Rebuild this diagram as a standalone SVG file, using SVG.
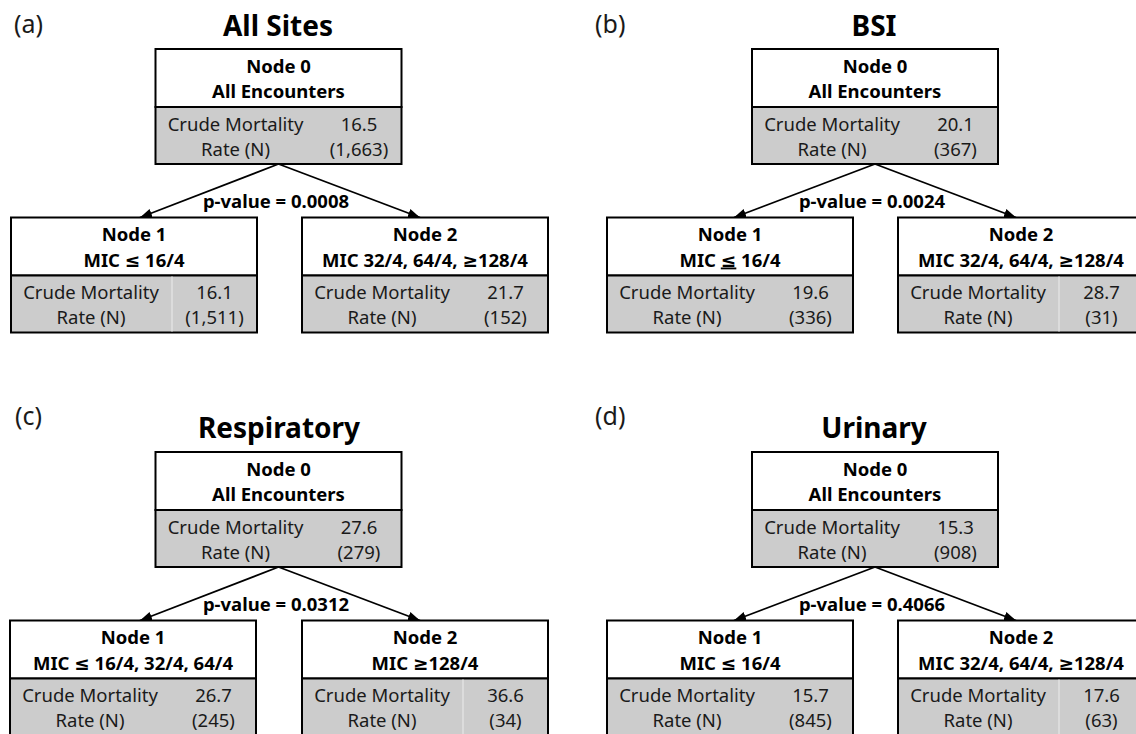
<svg xmlns="http://www.w3.org/2000/svg" width="1136" height="734" viewBox="0 0 1136 734">
<defs>
<style>
.hd{font-family:"Noto Sans","DejaVu Sans",sans-serif;font-weight:bold;font-size:18.5px;text-anchor:middle;fill:#000}
.dt{font-family:"Noto Sans","DejaVu Sans",sans-serif;font-size:18.5px;text-anchor:middle;fill:#1a1a1a}
.ttl{font-family:"Noto Sans","DejaVu Sans",sans-serif;font-weight:bold;font-size:28px;text-anchor:middle;fill:#000}
.lab{font-family:"Noto Sans","DejaVu Sans",sans-serif;font-size:25px;fill:#1a1a1a}
.pv{font-family:"Noto Sans","DejaVu Sans",sans-serif;font-weight:bold;font-size:18.5px;text-anchor:middle;fill:#000}
.w{fill:#fff;stroke:#000;stroke-width:2}
.g{fill:#cccccc;stroke:#000;stroke-width:2}
.cd{stroke:#e2e2e2;stroke-width:1.5}
.cn{stroke:#000;stroke-width:1.8;fill:none;marker-end:url(#ah)}
</style>
<marker id="ah" markerWidth="13" markerHeight="10" refX="12" refY="4.5" orient="auto" markerUnits="userSpaceOnUse">
<path d="M0,0 L12,4.5 L0,9 z" fill="#000"/>
</marker>
</defs>
<rect width="1136" height="734" fill="#fff"/>

<!-- Panel labels and titles -->
<text class="lab" x="14" y="33">(a)</text>
<text class="ttl" x="278" y="36">All Sites</text>
<text class="lab" x="595" y="33">(b)</text>
<text class="ttl" x="874" y="36">BSI</text>
<text class="lab" x="15" y="425">(c)</text>
<text class="ttl" x="279" y="438">Respiratory</text>
<text class="lab" x="595" y="425">(d)</text>
<text class="ttl" x="874" y="438">Urinary</text>

<!-- Connectors -->
<g id="connectors">
<line class="cn" x1="278.5" y1="164" x2="140" y2="217.5"/>
<line class="cn" x1="278.5" y1="164" x2="420" y2="217.5"/>
<text class="pv" x="276" y="208">p-value = 0.0008</text>
<line class="cn" x1="875" y1="164" x2="734" y2="217.5"/>
<line class="cn" x1="875" y1="164" x2="1016" y2="217.5"/>
<text class="pv" x="872" y="208">p-value = 0.0024</text>
<line class="cn" x1="278.5" y1="567" x2="140" y2="620.5"/>
<line class="cn" x1="278.5" y1="567" x2="420" y2="620.5"/>
<text class="pv" x="276" y="611">p-value = 0.0312</text>
<line class="cn" x1="875" y1="567" x2="734" y2="620.5"/>
<line class="cn" x1="875" y1="567" x2="1016" y2="620.5"/>
<text class="pv" x="872" y="611">p-value = 0.4066</text>
</g>

<!-- Panel (a) -->
<g id="a-node0" transform="translate(155.5,49)">
<rect class="w" width="246" height="58"/>
<rect class="g" y="58" width="246" height="57"/>
<text class="hd" x="123" y="23.5">Node 0</text>
<text class="hd" x="123" y="49">All Encounters</text>
<text class="dt" x="80" y="81.5">Crude Mortality</text>
<text class="dt" x="80" y="106.5">Rate (N)</text>
<text class="dt" x="203.5" y="81.5">16.5</text>
<text class="dt" x="203.5" y="106.5">(1,663)</text>
</g>
<g id="a-node1" transform="translate(11,217.5)">
<rect class="w" width="246" height="58"/>
<rect class="g" y="58" width="246" height="57"/>
<line class="cd" x1="161" y1="59" x2="161" y2="114"/>
<text class="hd" x="123" y="23.5">Node 1</text>
<text class="hd" x="123" y="49">MIC ≤ 16/4</text>
<text class="dt" x="80" y="81.5">Crude Mortality</text>
<text class="dt" x="80" y="106.5">Rate (N)</text>
<text class="dt" x="203.5" y="81.5">16.1</text>
<text class="dt" x="203.5" y="106.5">(1,511)</text>
</g>
<g id="a-node2" transform="translate(302,217.5)">
<rect class="w" width="246" height="58"/>
<rect class="g" y="58" width="246" height="57"/>
<text class="hd" x="123" y="23.5">Node 2</text>
<text class="hd" x="123" y="49">MIC 32/4, 64/4, ≥128/4</text>
<text class="dt" x="80" y="81.5">Crude Mortality</text>
<text class="dt" x="80" y="106.5">Rate (N)</text>
<text class="dt" x="203.5" y="81.5">21.7</text>
<text class="dt" x="203.5" y="106.5">(152)</text>
</g>

<!-- Panel (b) -->
<g id="b-node0" transform="translate(752,49)">
<rect class="w" width="246" height="58"/>
<rect class="g" y="58" width="246" height="57"/>
<text class="hd" x="123" y="23.5">Node 0</text>
<text class="hd" x="123" y="49">All Encounters</text>
<text class="dt" x="80" y="81.5">Crude Mortality</text>
<text class="dt" x="80" y="106.5">Rate (N)</text>
<text class="dt" x="203.5" y="81.5">20.1</text>
<text class="dt" x="203.5" y="106.5">(367)</text>
</g>
<g id="b-node1" transform="translate(607,217.5)">
<rect class="w" width="246" height="58"/>
<rect class="g" y="58" width="246" height="57"/>
<text class="hd" x="123" y="23.5">Node 1</text>
<text class="hd" x="123" y="49">MIC <tspan text-decoration="underline">≤</tspan> 16/4</text>
<text class="dt" x="80" y="81.5">Crude Mortality</text>
<text class="dt" x="80" y="106.5">Rate (N)</text>
<text class="dt" x="203.5" y="81.5">19.6</text>
<text class="dt" x="203.5" y="106.5">(336)</text>
</g>
<g id="b-node2" transform="translate(898,217.5)">
<rect class="w" width="246" height="58"/>
<rect class="g" y="58" width="246" height="57"/>
<line class="cd" x1="161" y1="59" x2="161" y2="114"/>
<text class="hd" x="123" y="23.5">Node 2</text>
<text class="hd" x="123" y="49">MIC 32/4, 64/4, ≥128/4</text>
<text class="dt" x="80" y="81.5">Crude Mortality</text>
<text class="dt" x="80" y="106.5">Rate (N)</text>
<text class="dt" x="203.5" y="81.5">28.7</text>
<text class="dt" x="203.5" y="106.5">(31)</text>
</g>

<!-- Panel (c) -->
<g id="c-node0" transform="translate(155.5,452)">
<rect class="w" width="246" height="58"/>
<rect class="g" y="58" width="246" height="57"/>
<text class="hd" x="123" y="23.5">Node 0</text>
<text class="hd" x="123" y="49">All Encounters</text>
<text class="dt" x="80" y="81.5">Crude Mortality</text>
<text class="dt" x="80" y="106.5">Rate (N)</text>
<text class="dt" x="203.5" y="81.5">27.6</text>
<text class="dt" x="203.5" y="106.5">(279)</text>
</g>
<g id="c-node1" transform="translate(10,620.5)">
<rect class="w" width="246" height="58"/>
<rect class="g" y="58" width="246" height="57"/>
<text class="hd" x="123" y="23.5">Node 1</text>
<text class="hd" x="123" y="49">MIC ≤ 16/4, 32/4, 64/4</text>
<text class="dt" x="80" y="81.5">Crude Mortality</text>
<text class="dt" x="80" y="106.5">Rate (N)</text>
<text class="dt" x="203.5" y="81.5">26.7</text>
<text class="dt" x="203.5" y="106.5">(245)</text>
</g>
<g id="c-node2" transform="translate(302,620.5)">
<rect class="w" width="246" height="58"/>
<rect class="g" y="58" width="246" height="57"/>
<line class="cd" x1="161" y1="59" x2="161" y2="114"/>
<text class="hd" x="123" y="23.5">Node 2</text>
<text class="hd" x="123" y="49">MIC ≥128/4</text>
<text class="dt" x="80" y="81.5">Crude Mortality</text>
<text class="dt" x="80" y="106.5">Rate (N)</text>
<text class="dt" x="203.5" y="81.5">36.6</text>
<text class="dt" x="203.5" y="106.5">(34)</text>
</g>

<!-- Panel (d) -->
<g id="d-node0" transform="translate(752,452)">
<rect class="w" width="246" height="58"/>
<rect class="g" y="58" width="246" height="57"/>
<text class="hd" x="123" y="23.5">Node 0</text>
<text class="hd" x="123" y="49">All Encounters</text>
<text class="dt" x="80" y="81.5">Crude Mortality</text>
<text class="dt" x="80" y="106.5">Rate (N)</text>
<text class="dt" x="203.5" y="81.5">15.3</text>
<text class="dt" x="203.5" y="106.5">(908)</text>
</g>
<g id="d-node1" transform="translate(607,620.5)">
<rect class="w" width="246" height="58"/>
<rect class="g" y="58" width="246" height="57"/>
<text class="hd" x="123" y="23.5">Node 1</text>
<text class="hd" x="123" y="49">MIC ≤ 16/4</text>
<text class="dt" x="80" y="81.5">Crude Mortality</text>
<text class="dt" x="80" y="106.5">Rate (N)</text>
<text class="dt" x="203.5" y="81.5">15.7</text>
<text class="dt" x="203.5" y="106.5">(845)</text>
</g>
<g id="d-node2" transform="translate(898,620.5)">
<rect class="w" width="246" height="58"/>
<rect class="g" y="58" width="246" height="57"/>
<line class="cd" x1="161" y1="59" x2="161" y2="114"/>
<text class="hd" x="123" y="23.5">Node 2</text>
<text class="hd" x="123" y="49">MIC 32/4, 64/4, ≥128/4</text>
<text class="dt" x="80" y="81.5">Crude Mortality</text>
<text class="dt" x="80" y="106.5">Rate (N)</text>
<text class="dt" x="203.5" y="81.5">17.6</text>
<text class="dt" x="203.5" y="106.5">(63)</text>
</g>
</svg>
